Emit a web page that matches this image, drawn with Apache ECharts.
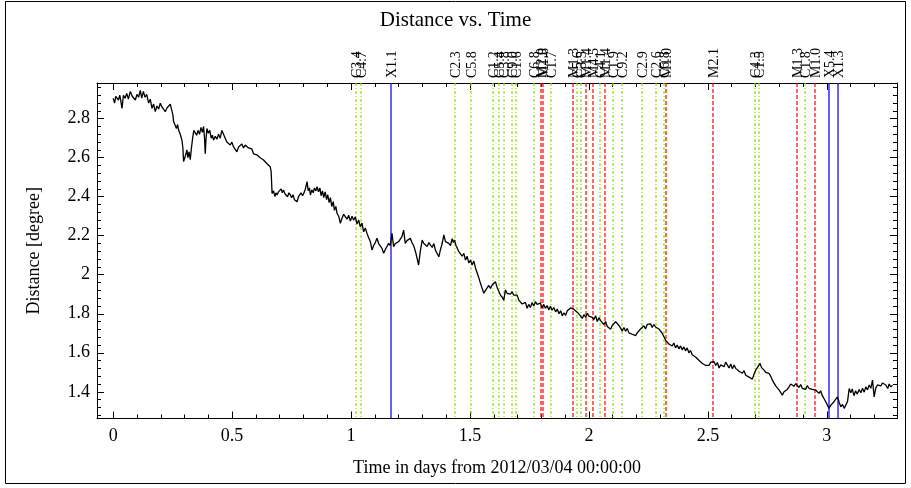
<!DOCTYPE html>
<html>
<head>
<meta charset="utf-8">
<title>Distance vs. Time</title>
<script src="https://cdn.jsdelivr.net/npm/echarts@6/dist/echarts.min.js"></script>
<style>
  html, body { margin: 0; padding: 0; background: #fff; }
  #chart { width: 911px; height: 488px; }
</style>
</head>
<body>
<div id="chart"></div>
<script>
// Angular distance sampled over time: [days since 2012/03/04 00:00:00, degrees]
const distanceSamples = [
  [0.000,2.905],[0.006,2.880],[0.011,2.915],[0.016,2.910],[0.022,2.895],[0.028,2.920],[0.033,2.885],[0.037,2.853],
  [0.043,2.920],[0.050,2.905],[0.057,2.930],[0.064,2.900],[0.072,2.940],[0.080,2.915],[0.086,2.925],[0.093,2.896],
  [0.100,2.925],[0.107,2.910],[0.114,2.945],[0.120,2.905],[0.127,2.940],[0.134,2.910],[0.141,2.925],[0.149,2.880],
  [0.156,2.900],[0.163,2.853],[0.170,2.875],[0.177,2.836],[0.184,2.865],[0.191,2.850],[0.198,2.879],[0.205,2.860],
  [0.212,2.870],[0.219,2.836],[0.226,2.855],[0.233,2.850],[0.240,2.875],[0.247,2.870],[0.251,2.820],[0.254,2.785],
  [0.260,2.775],[0.266,2.750],[0.271,2.770],[0.275,2.742],[0.282,2.720],[0.289,2.690],[0.293,2.650],[0.296,2.580],
  [0.301,2.600],[0.306,2.620],[0.310,2.640],[0.314,2.600],[0.319,2.630],[0.324,2.590],[0.329,2.650],[0.334,2.700],
  [0.339,2.740],[0.345,2.750],[0.351,2.715],[0.357,2.740],[0.363,2.720],[0.369,2.755],[0.375,2.730],[0.380,2.760],
  [0.384,2.700],[0.387,2.620],[0.390,2.690],[0.394,2.750],[0.400,2.725],[0.406,2.740],[0.412,2.700],[0.417,2.715],
  [0.422,2.690],[0.429,2.710],[0.436,2.695],[0.443,2.720],[0.450,2.700],[0.457,2.740],[0.464,2.733],[0.471,2.700],
  [0.478,2.680],[0.485,2.690],[0.492,2.665],[0.499,2.680],[0.506,2.655],[0.513,2.665],[0.520,2.630],[0.527,2.655],
  [0.534,2.645],[0.541,2.670],[0.548,2.650],[0.555,2.665],[0.562,2.674],[0.569,2.650],[0.576,2.640],[0.583,2.645],
  [0.590,2.620],[0.597,2.630],[0.604,2.615],[0.611,2.625],[0.618,2.600],[0.625,2.605],[0.632,2.588],[0.639,2.595],
  [0.646,2.570],[0.653,2.580],[0.660,2.554],[0.664,2.530],[0.668,2.417],[0.674,2.430],[0.680,2.400],[0.684,2.420],
  [0.689,2.409],[0.695,2.425],[0.700,2.415],[0.706,2.440],[0.711,2.420],[0.716,2.434],[0.722,2.415],[0.728,2.425],
  [0.733,2.400],[0.739,2.420],[0.745,2.409],[0.750,2.395],[0.756,2.410],[0.762,2.385],[0.768,2.395],[0.773,2.374],
  [0.779,2.400],[0.785,2.390],[0.790,2.420],[0.796,2.405],[0.801,2.417],[0.808,2.440],[0.815,2.477],[0.820,2.430],
  [0.825,2.445],[0.829,2.409],[0.835,2.435],[0.841,2.420],[0.846,2.445],[0.852,2.430],[0.857,2.451],[0.863,2.425],
  [0.869,2.445],[0.874,2.405],[0.880,2.430],[0.885,2.395],[0.891,2.425],[0.897,2.385],[0.902,2.410],[0.908,2.370],
  [0.913,2.395],[0.919,2.350],[0.925,2.375],[0.930,2.330],[0.936,2.350],[0.941,2.315],[0.948,2.300],[0.955,2.264],
  [0.962,2.290],[0.969,2.310],[0.976,2.315],[0.983,2.285],[0.990,2.305],[0.997,2.275],[1.004,2.300],[1.011,2.280],
  [1.018,2.297],[1.025,2.260],[1.032,2.280],[1.039,2.246],[1.046,2.265],[1.053,2.220],[1.060,2.240],[1.067,2.212],
  [1.074,2.190],[1.081,2.170],[1.088,2.127],[1.095,2.150],[1.102,2.165],[1.109,2.187],[1.116,2.160],[1.123,2.150],
  [1.130,2.135],[1.137,2.110],[1.144,2.130],[1.151,2.145],[1.158,2.161],[1.165,2.150],[1.172,2.212],[1.179,2.144],
  [1.186,2.160],[1.193,2.150],[1.200,2.170],[1.207,2.160],[1.214,2.195],[1.221,2.229],[1.228,2.161],[1.235,2.175],
  [1.242,2.165],[1.249,2.187],[1.256,2.165],[1.263,2.150],[1.271,2.118],[1.278,2.110],[1.284,2.050],[1.291,2.120],
  [1.299,2.178],[1.306,2.160],[1.313,2.170],[1.320,2.145],[1.327,2.165],[1.334,2.152],[1.341,2.140],[1.348,2.160],
  [1.355,2.125],[1.362,2.115],[1.369,2.092],[1.376,2.130],[1.383,2.160],[1.390,2.204],[1.397,2.170],[1.404,2.180],
  [1.411,2.161],[1.418,2.150],[1.425,2.185],[1.430,2.165],[1.435,2.178],[1.441,2.150],[1.447,2.135],[1.453,2.118],
  [1.460,2.125],[1.467,2.095],[1.474,2.110],[1.481,2.075],[1.488,2.095],[1.495,2.060],[1.502,2.075],[1.509,2.050],
  [1.516,2.070],[1.523,2.035],[1.530,2.030],[1.537,1.985],[1.544,1.956],[1.551,1.930],[1.558,1.905],[1.565,1.920],
  [1.572,1.930],[1.579,1.945],[1.586,1.930],[1.593,1.947],[1.600,1.950],[1.607,1.964],[1.614,1.935],[1.621,1.915],
  [1.628,1.896],[1.635,1.885],[1.642,1.870],[1.649,1.922],[1.656,1.905],[1.663,1.915],[1.670,1.900],[1.677,1.913],
  [1.684,1.895],[1.691,1.905],[1.698,1.896],[1.705,1.870],[1.712,1.880],[1.719,1.850],[1.726,1.845],[1.733,1.858],
  [1.740,1.828],[1.747,1.848],[1.754,1.832],[1.761,1.858],[1.768,1.840],[1.775,1.862],[1.782,1.848],[1.789,1.838],
  [1.796,1.855],[1.803,1.830],[1.810,1.848],[1.817,1.828],[1.824,1.842],[1.831,1.820],[1.838,1.838],[1.845,1.818],
  [1.852,1.832],[1.860,1.810],[1.867,1.824],[1.874,1.800],[1.881,1.815],[1.888,1.790],[1.895,1.805],[1.902,1.792],
  [1.909,1.815],[1.916,1.808],[1.923,1.830],[1.930,1.838],[1.937,1.822],[1.944,1.825],[1.951,1.808],[1.958,1.803],
  [1.965,1.788],[1.972,1.776],[1.979,1.795],[1.986,1.782],[1.993,1.802],[2.000,1.788],[2.007,1.798],[2.014,1.782],
  [2.021,1.770],[2.028,1.790],[2.035,1.760],[2.042,1.780],[2.049,1.765],[2.056,1.770],[2.063,1.745],[2.070,1.760],
  [2.077,1.735],[2.084,1.745],[2.091,1.720],[2.098,1.740],[2.105,1.745],[2.112,1.760],[2.119,1.768],[2.126,1.740],
  [2.133,1.735],[2.140,1.712],[2.147,1.730],[2.154,1.710],[2.161,1.725],[2.168,1.702],[2.175,1.712],[2.182,1.695],
  [2.189,1.705],[2.196,1.688],[2.203,1.702],[2.210,1.705],[2.217,1.722],[2.224,1.718],[2.231,1.738],[2.238,1.722],
  [2.245,1.745],[2.252,1.735],[2.259,1.748],[2.266,1.730],[2.273,1.745],[2.280,1.732],[2.287,1.742],[2.294,1.722],
  [2.301,1.720],[2.308,1.700],[2.315,1.690],[2.322,1.665],[2.329,1.670],[2.336,1.645],[2.343,1.655],[2.350,1.635],
  [2.357,1.650],[2.364,1.625],[2.371,1.640],[2.378,1.620],[2.385,1.635],[2.392,1.615],[2.399,1.630],[2.406,1.610],
  [2.413,1.625],[2.420,1.600],[2.427,1.612],[2.434,1.590],[2.441,1.600],[2.448,1.578],[2.456,1.585],[2.463,1.560],
  [2.470,1.565],[2.477,1.545],[2.484,1.555],[2.491,1.535],[2.498,1.545],[2.505,1.535],[2.512,1.552],[2.519,1.560],
  [2.526,1.554],[2.533,1.535],[2.540,1.550],[2.547,1.522],[2.554,1.538],[2.561,1.540],[2.568,1.528],[2.575,1.552],
  [2.582,1.546],[2.589,1.522],[2.596,1.542],[2.603,1.518],[2.610,1.537],[2.617,1.520],[2.624,1.525],[2.631,1.505],
  [2.638,1.515],[2.645,1.495],[2.652,1.508],[2.659,1.485],[2.666,1.495],[2.673,1.475],[2.680,1.482],[2.687,1.465],
  [2.694,1.490],[2.701,1.511],[2.708,1.520],[2.714,1.535],[2.719,1.546],[2.725,1.525],[2.730,1.530],[2.736,1.511],
  [2.743,1.500],[2.750,1.505],[2.757,1.494],[2.764,1.480],[2.771,1.460],[2.778,1.455],[2.785,1.430],[2.792,1.432],
  [2.799,1.410],[2.806,1.405],[2.813,1.383],[2.820,1.400],[2.827,1.390],[2.834,1.412],[2.841,1.425],[2.848,1.440],
  [2.855,1.443],[2.862,1.428],[2.869,1.442],[2.876,1.434],[2.883,1.422],[2.890,1.437],[2.897,1.418],[2.904,1.428],
  [2.911,1.412],[2.918,1.432],[2.925,1.418],[2.932,1.428],[2.939,1.412],[2.946,1.422],[2.953,1.409],[2.960,1.418],
  [2.967,1.392],[2.974,1.405],[2.981,1.380],[2.988,1.372],[2.995,1.350],[3.002,1.345],[3.009,1.315],[3.016,1.330],
  [3.023,1.320],[3.030,1.349],[3.037,1.355],[3.045,1.374],[3.052,1.345],[3.059,1.323],[3.066,1.335],[3.073,1.315],
  [3.080,1.306],[3.087,1.350],[3.094,1.417],[3.101,1.395],[3.107,1.415],[3.114,1.380],[3.121,1.405],[3.128,1.388],
  [3.136,1.412],[3.143,1.395],[3.150,1.418],[3.157,1.398],[3.164,1.425],[3.171,1.410],[3.178,1.435],[3.185,1.418],
  [3.192,1.460],[3.199,1.374],[3.206,1.420],[3.213,1.435],[3.220,1.443],[3.227,1.430],[3.234,1.445],[3.241,1.451],
  [3.248,1.435],[3.256,1.417],[3.262,1.440],[3.269,1.425],[3.276,1.434]
];

// Flare events: peak time (days) and GOES class
const flareTimes = [
  1.021, 1.042, 1.169, 1.435, 1.503, 1.597, 1.621, 1.642, 1.677, 1.692,
  1.771, 1.799, 1.808, 1.840, 1.935, 1.951, 1.966, 1.989, 2.015, 2.048,
  2.067, 2.101, 2.139, 2.223, 2.281, 2.316, 2.325, 2.522, 2.697, 2.715,
  2.876, 2.908, 2.949, 3.011, 3.045
];
const flareLabels = [
  'C3.4', 'C4.7', 'X1.1', 'C2.3', 'C5.8', 'C1.2', 'C5.4', 'C3.8', 'C9.0', 'C1.6',
  'C6.8', 'M2.0', 'M1.8', 'C1.7', 'M1.3', 'C5.6', 'C3.5', 'M1.4', 'M4.5', 'C4.1',
  'M1.4', 'C1.9', 'C9.2', 'C2.9', 'C2.6', 'C6.8', 'M1.0', 'M2.1', 'C4.3', 'C1.5',
  'M1.3', 'C1.8', 'M1.0', 'X5.4', 'X1.3'
];

// Axis ticks
const xMajorTicks = [0, 0.5, 1, 1.5, 2, 2.5, 3];
const xMinorTicks = [0.1, 0.2, 0.3, 0.4, 0.6, 0.7, 0.8, 0.9, 1.1, 1.2, 1.3, 1.4, 1.6, 1.7, 1.8, 1.9,
  2.1, 2.2, 2.3, 2.4, 2.6, 2.7, 2.8, 2.9, 3.1, 3.2];
const yMajorTicks = [1.4, 1.6, 1.8, 2, 2.2, 2.4, 2.6, 2.8];
const yMinorTicks = [1.28, 1.32, 1.36, 1.44, 1.48, 1.52, 1.56, 1.64, 1.68, 1.72, 1.76, 1.84, 1.88,
  1.92, 1.96, 2.04, 2.08, 2.12, 2.16, 2.24, 2.28, 2.32, 2.36, 2.44, 2.48, 2.52, 2.56, 2.64, 2.68,
  2.72, 2.76, 2.84, 2.88, 2.92, 2.96];

const X_MIN = -0.068, X_MAX = 3.295;
const Y_MIN = 1.263, Y_MAX = 2.983;
const FONT = '"Liberation Serif", "DejaVu Serif", serif';

// Line style per flare class
const classStyle = {
  C: { stroke: '#8fe000', lineDash: [3, 2, 1, 2], lineWidth: 1.2 },
  M: { stroke: '#ff0000', lineDash: [4, 2], lineWidth: 1.2 },
  X: { stroke: '#1f1fff', lineDash: null, lineWidth: 1.4 }
};

function valueAxis(dir, pos, ticks, len, withLabels, withLine, extra) {
  const isX = dir === 'x';
  return Object.assign({
    type: 'value',
    position: pos,
    min: isX ? X_MIN : Y_MIN,
    max: isX ? X_MAX : Y_MAX,
    axisLine: { show: withLine, onZero: false, lineStyle: { color: '#000', width: 1 } },
    axisTick: { show: true, inside: true, length: len, customValues: ticks, lineStyle: { color: '#000', width: 1 } },
    axisLabel: withLabels ? {
      show: true, customValues: ticks, color: '#000', fontFamily: FONT, fontSize: 18,
      margin: isX ? 9 : 7
    } : { show: false, customValues: ticks },
    splitLine: { show: false }
  }, extra || {});
}

const chart = echarts.init(document.getElementById('chart'), null, { renderer: 'canvas' });

chart.setOption({
  backgroundColor: '#fff',
  animation: false,
  title: {
    text: 'Distance vs. Time',
    left: 'center',
    top: 5,
    textStyle: { color: '#000', fontFamily: FONT, fontSize: 21, fontWeight: 'normal' }
  },
  grid: { left: 97, right: 14, top: 83, bottom: 69.5, show: false },
  xAxis: [
    valueAxis('x', 'bottom', xMajorTicks, 7, true, true, {
      name: 'Time in days from 2012/03/04 00:00:00',
      nameLocation: 'middle', nameGap: 41,
      nameTextStyle: { color: '#000', fontFamily: FONT, fontSize: 18 }
    }),
    valueAxis('x', 'bottom', xMinorTicks, 4, false, false),
    valueAxis('x', 'top', xMajorTicks, 7, false, true),
    valueAxis('x', 'top', xMinorTicks, 4, false, false)
  ],
  yAxis: [
    valueAxis('y', 'left', yMajorTicks, 7, true, true, {
      name: 'Distance [degree]',
      nameLocation: 'middle', nameGap: 54,
      nameTextStyle: { color: '#000', fontFamily: FONT, fontSize: 18 }
    }),
    valueAxis('y', 'left', yMinorTicks, 4, false, false),
    valueAxis('y', 'right', yMajorTicks, 7, false, true),
    valueAxis('y', 'right', yMinorTicks, 4, false, false)
  ],
  graphic: [{
    type: 'rect',
    shape: { x: 5.5, y: 1.5, width: 900, height: 482 },
    style: { fill: 'none', stroke: '#000', lineWidth: 1 },
    silent: true
  }],
  series: [
    {
      name: 'flares',
      type: 'custom',
      xAxisIndex: 0,
      yAxisIndex: 0,
      clip: false,
      silent: true,
      z: 1,
      data: flareTimes.map(t => [t, Y_MIN]),
      renderItem: function (params, api) {
        const t = api.value(0);
        const label = flareLabels[params.dataIndex];
        const st = classStyle[label.charAt(0)];
        const top = api.coord([t, Y_MAX]);
        const bot = api.coord([t, Y_MIN]);
        const x = Math.round(top[0]);
        return {
          type: 'group',
          children: [
            {
              type: 'line',
              shape: { x1: x, y1: top[1], x2: x, y2: bot[1] },
              style: {
                stroke: st.stroke, fill: null, lineWidth: st.lineWidth,
                lineDash: st.lineDash, opacity: 1
              }
            },
            {
              type: 'text',
              x: x + 1,
              y: top[1] - 5,
              rotation: Math.PI / 2,
              style: {
                text: label, fill: '#000', fontFamily: FONT, fontSize: 14,
                align: 'left', verticalAlign: 'middle'
              }
            }
          ]
        };
      }
    },
    {
      name: 'distance',
      type: 'line',
      xAxisIndex: 0,
      yAxisIndex: 0,
      data: distanceSamples,
      showSymbol: false,
      symbol: 'none',
      z: 3,
      lineStyle: { color: '#000', width: 1.3 }
    }
  ]
});
</script>
</body>
</html>
